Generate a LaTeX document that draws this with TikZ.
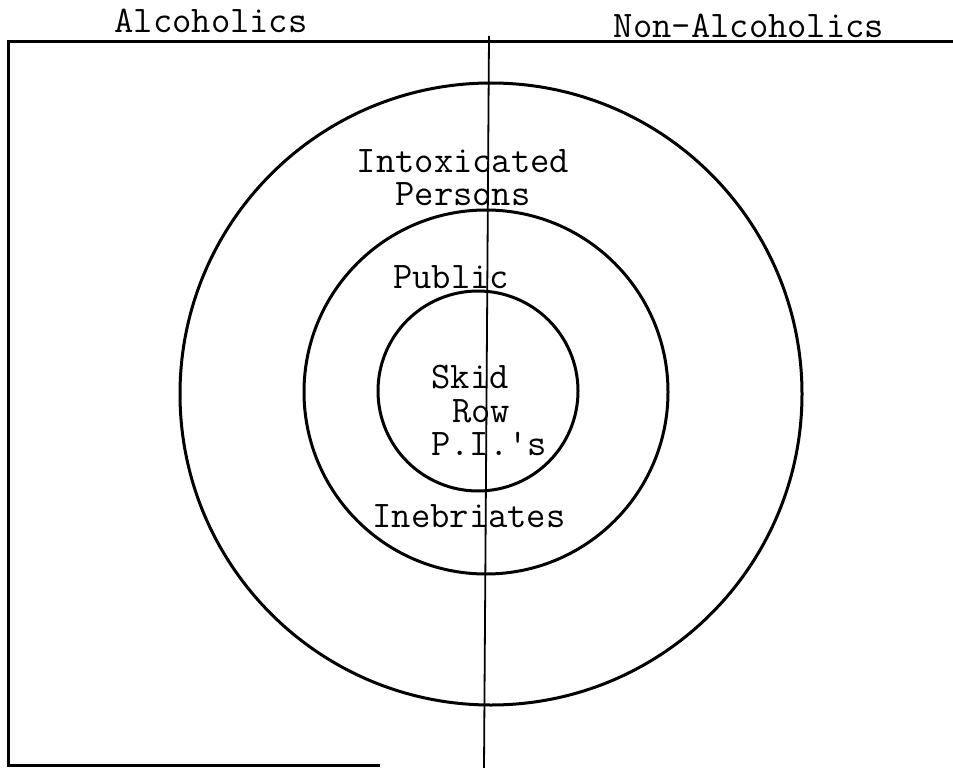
\documentclass[tikz,border=0pt]{standalone}
\usepackage{fontspec}
\begin{document}
\begin{tikzpicture}[x=1pt,y=-1pt,
  lbl/.style={anchor=base,inner sep=0pt,text height=22pt,text depth=1pt,font=\ttfamily\fontsize{37.5}{40}\selectfont},
  ring/.style={line width=3pt},
  frame/.style={line width=3pt},
  divider/.style={line width=1.8pt}]
\useasboundingbox (0,0) rectangle (953,768);
% frame
\coordinate (tl) at (8,42);
\coordinate (tr) at (953,42);
\coordinate (bl) at (8,765);
\coordinate (br) at (380,765);
\draw[frame] (tr) -- (tl) -- (bl) -- (br);
% divider
\coordinate (dtop) at (489,36);
\coordinate (dbot) at (484,768);
\draw[divider] (dtop) -- (dbot);
% circles
\node[ring,draw,circle,minimum size=622pt,inner sep=0pt] (outer) at (491,394) {};
\node[ring,draw,circle,minimum size=364pt,inner sep=0pt] (mid) at (486,392) {};
\node[ring,draw,circle,minimum size=200pt,inner sep=0pt] (inner) at (478,391) {};
% labels
\node[lbl] (alc) at (211,33) {Alcoholics};
\node[lbl] (nonalc) at (749,38) {Non-Alcoholics};
\node[lbl] (intox) at (463,172) {Intoxicated};
\node[lbl] (pers) at (463,205) {Persons};
\node[lbl] (pub) at (451,288) {Public};
\node[lbl] (skid) at (470,388) {Skid};
\node[lbl] (row) at (481,422) {Row};
\node[lbl] (pis) at (489,455) {P.I.'s};
\node[lbl] (ineb) at (469,527) {Inebriates};
\end{tikzpicture}
\end{document}
